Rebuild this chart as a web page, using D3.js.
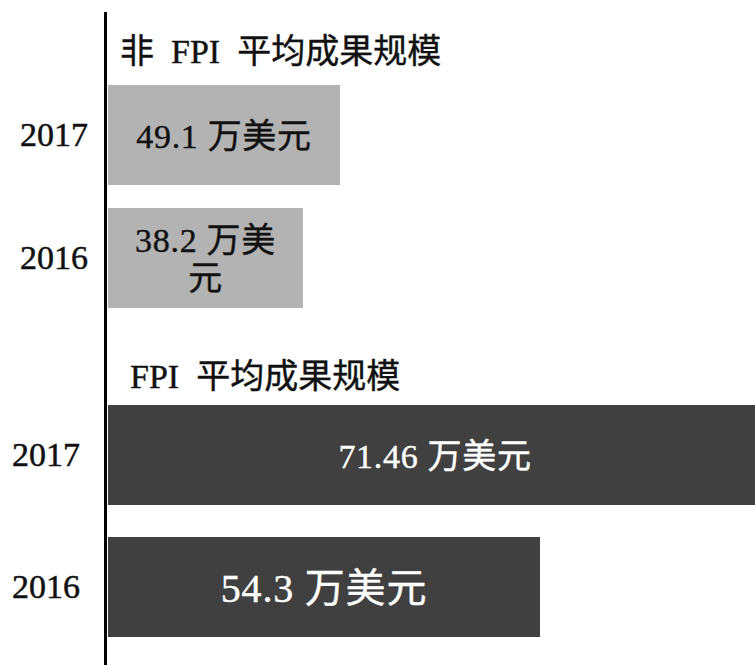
<!DOCTYPE html>
<html>
<head>
<meta charset="utf-8">
<script src="https://cdn.jsdelivr.net/npm/d3@7/dist/d3.min.js"></script>
<style>
  html, body { margin: 0; padding: 0; background: #fff; }
  svg text { font-family: "Liberation Serif", "Noto Sans CJK SC", serif; }
  svg text.title { word-spacing: 0.25em; }
  svg text.bar-label { letter-spacing: 0.02em; }
</style>
</head>
<body>
<div id="chart"></div>
<script>
// data
const years = ["2017", "2016"];
const nonFpiValues = [49.1, 38.2];
const fpiValues = [71.46, 54.3];
const nonFpiLabels = ["49.1 万美元", "38.2 万美元"];
const fpiLabels = ["71.46 万美元", "54.3 万美元"];
const groupTitles = ["非 FPI 平均成果规模", "FPI 平均成果规模"];
// the picture does not start its bars at zero, so each group has its own domain
const nonFpiDomain = [-19.25, 49.1];
const fpiDomain = [20.91, 71.46];

const W = 755, H = 665;
const axisX = 108;

const svg = d3.select("#chart").append("svg")
    .attr("width", W)
    .attr("height", H);

const groups = [
  {
    title: groupTitles[0], titleX: 120, titleY: 51,
    values: nonFpiValues, labels: nonFpiLabels,
    x: d3.scaleLinear().domain(nonFpiDomain).range([axisX, 340]),
    y: d3.scaleBand().domain(years).range([85, 308]).paddingInner(0.187),
    fill: "#b3b3b3", textFill: "#111", fontSize: 34, yearPad: 16
  },
  {
    title: groupTitles[1], titleX: 130, titleY: 376,
    values: fpiValues, labels: fpiLabels,
    x: d3.scaleLinear().domain(fpiDomain).range([axisX, 762]),
    y: d3.scaleBand().domain(years).range([405, 637]).paddingInner(0.2424),
    fill: "#404040", textFill: "#fff", fontSize: [34, 40], yearPad: 24
  }
];

function wrapLabel(textSel, str, maxWidth, lineH, cy) {
  textSel.text(null);
  let lines = [];
  let cur = "";
  let probe = textSel.append("tspan");
  for (let ch of Array.from(str)) {
    probe.text(cur + ch);
    if (probe.node().getComputedTextLength() > maxWidth && cur.length > 0) {
      lines.push(cur.trim());
      cur = ch;
    } else {
      cur += ch;
    }
  }
  lines.push(cur.trim());
  probe.remove();
  let x = textSel.attr("x");
  let y0 = cy - (lines.length - 1) * lineH / 2;
  lines.forEach(function(l, i) {
    textSel.append("tspan").attr("x", x).attr("y", y0 + i * lineH).text(l);
  });
}

for (let g of groups) {
  let data = years.map(function(yr, i) {
    return {year: yr, value: g.values[i], label: g.labels[i], i: i};
  });

  svg.append("text")
    .attr("class", "title")
    .attr("x", g.titleX)
    .attr("y", g.titleY)
    .attr("dominant-baseline", "central")
    .attr("font-size", 34)
    .attr("fill", "#111")
    .attr("stroke", "#111")
    .attr("stroke-width", 0.4)
    .text(g.title);

  svg.selectAll(null)
    .data(data)
    .enter().append("rect")
    .attr("x", g.x.range()[0])
    .attr("y", function(d) { return g.y(d.year); })
    .attr("width", function(d) { return g.x(d.value) - g.x.range()[0]; })
    .attr("height", g.y.bandwidth())
    .attr("fill", g.fill);

  svg.selectAll(null)
    .data(data)
    .enter().append("text")
    .attr("class", "bar-label")
    .attr("x", function(d) { return (g.x.range()[0] + g.x(d.value)) / 2; })
    .attr("text-anchor", "middle")
    .attr("dominant-baseline", "central")
    .attr("font-size", function(d) { return Array.isArray(g.fontSize) ? g.fontSize[d.i] : g.fontSize; })
    .attr("fill", g.textFill)
    .attr("stroke", g.textFill)
    .attr("stroke-width", 0.4)
    .each(function(d) {
      let w = g.x(d.value) - g.x.range()[0];
      let cy = g.y(d.year) + g.y.bandwidth() / 2 + 1;
      wrapLabel(d3.select(this), d.label, w - 40, 38, cy);
    });

  // year labels
  let ax = svg.append("g")
    .attr("transform", "translate(" + (axisX - 4) + ",0)")
    .call(d3.axisLeft(g.y).tickSize(0).tickPadding(g.yearPad));
  ax.select(".domain").remove();
  ax.selectAll("text")
    .attr("font-size", 34)
    .attr("fill", "#111")
    .attr("stroke", "#111")
    .attr("stroke-width", 0.5);
  ax.attr("font-family", null).attr("font-size", null);
}

// vertical axis line
svg.append("line")
  .attr("x1", 105.5).attr("x2", 105.5)
  .attr("y1", 12).attr("y2", H)
  .attr("stroke", "#000")
  .attr("stroke-width", 3);
</script>
</body>
</html>
